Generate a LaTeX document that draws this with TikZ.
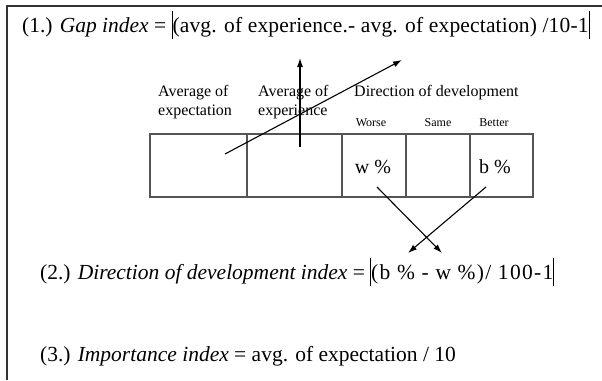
\documentclass[tikz,border=0pt]{standalone}
\usepackage{fontspec}
\setmainfont{Liberation Serif}
\newfontfamily\looseone[LetterSpace=0.8]{Liberation Serif}
\newfontfamily\loosetwo[LetterSpace=6]{Liberation Serif}
\usepackage{tikz}
\usetikzlibrary{arrows.meta}
\definecolor{framegray}{RGB}{50,50,50}
\definecolor{cellgray}{RGB}{85,85,85}
\newcommand{\absbar}{\rule[-0.3em]{0.9pt}{1.3em}}

\begin{document}
\begin{tikzpicture}[x=1pt,y=-1pt,
  hdr/.style={font=\fontsize{16}{19}\selectfont,align=left,inner sep=0pt,anchor=west},
  sub/.style={font=\fontsize{12}{14}\selectfont,inner sep=0pt},
  pct/.style={font=\fontsize{20}{22}\selectfont,inner sep=0pt},
  formula/.style={font=\fontsize{21.5}{24}\selectfont,anchor=west,inner sep=0pt},
  arr/.style={-{Latex[length=9pt,width=6pt]},line width=1.1pt}]
  \useasboundingbox (0,0) rectangle (602,380);
  % frame, only top and left edges show
  \draw[framegray,line width=1.6pt] (7,380) -- (7,6) -- (602,6);
  % table
  \draw[cellgray,line width=1.8pt] (150,134) rectangle (533,197);
  \foreach \c in {247,342,406,470}{
    \draw[cellgray,line width=1.8pt] (\c,134) -- (\c,197);
  }
  \node[formula] (gap) at (22,25) {(1.) \textit{Gap index} = \absbar{\looseone(avg. of experience.- avg. of expectation) /10-1}\absbar};
  \node[hdr] (hexpect) at (158,102) {Average of\\expectation};
  \node[hdr] (hexper) at (258,102) {Average of\\experience};
  \node[hdr] (hdir) at (354,93) {Direction of development};
  \node[sub] (worse) at (371,123) {Worse};
  \node[sub] (same) at (438,123) {Same};
  \node[sub] (better) at (494,123) {Better};
  \node[pct] (wpct) at (373,167) {w \%};
  \node[pct] (bpct) at (495,167) {b \%};
  \node[formula] (dir) at (40,272) {(2.) \textit{Direction of development index} = \absbar{\loosetwo(b \% - w \%)/ 100-1}\absbar};
  \node[formula] (imp) at (40,356) {(3.) \textit{Importance index} = avg. of expectation / 10};
  % arrows
  \coordinate (expfoot) at (225,154);
  \coordinate (gaptip) at (402,60);
  \coordinate (experfoot) at (300,147);
  \coordinate (expertip) at (300,58);
  \coordinate (wfoot) at (377,187);
  \coordinate (wtip) at (442,253);
  \coordinate (bfoot) at (486,187);
  \coordinate (btip) at (408,253);
  \draw[arr] (expfoot) -- (gaptip);
  \draw[arr] (experfoot) -- (expertip);
  \draw[arr] (wfoot) -- (wtip);
  \draw[arr] (bfoot) -- (btip);
\end{tikzpicture}
\end{document}
